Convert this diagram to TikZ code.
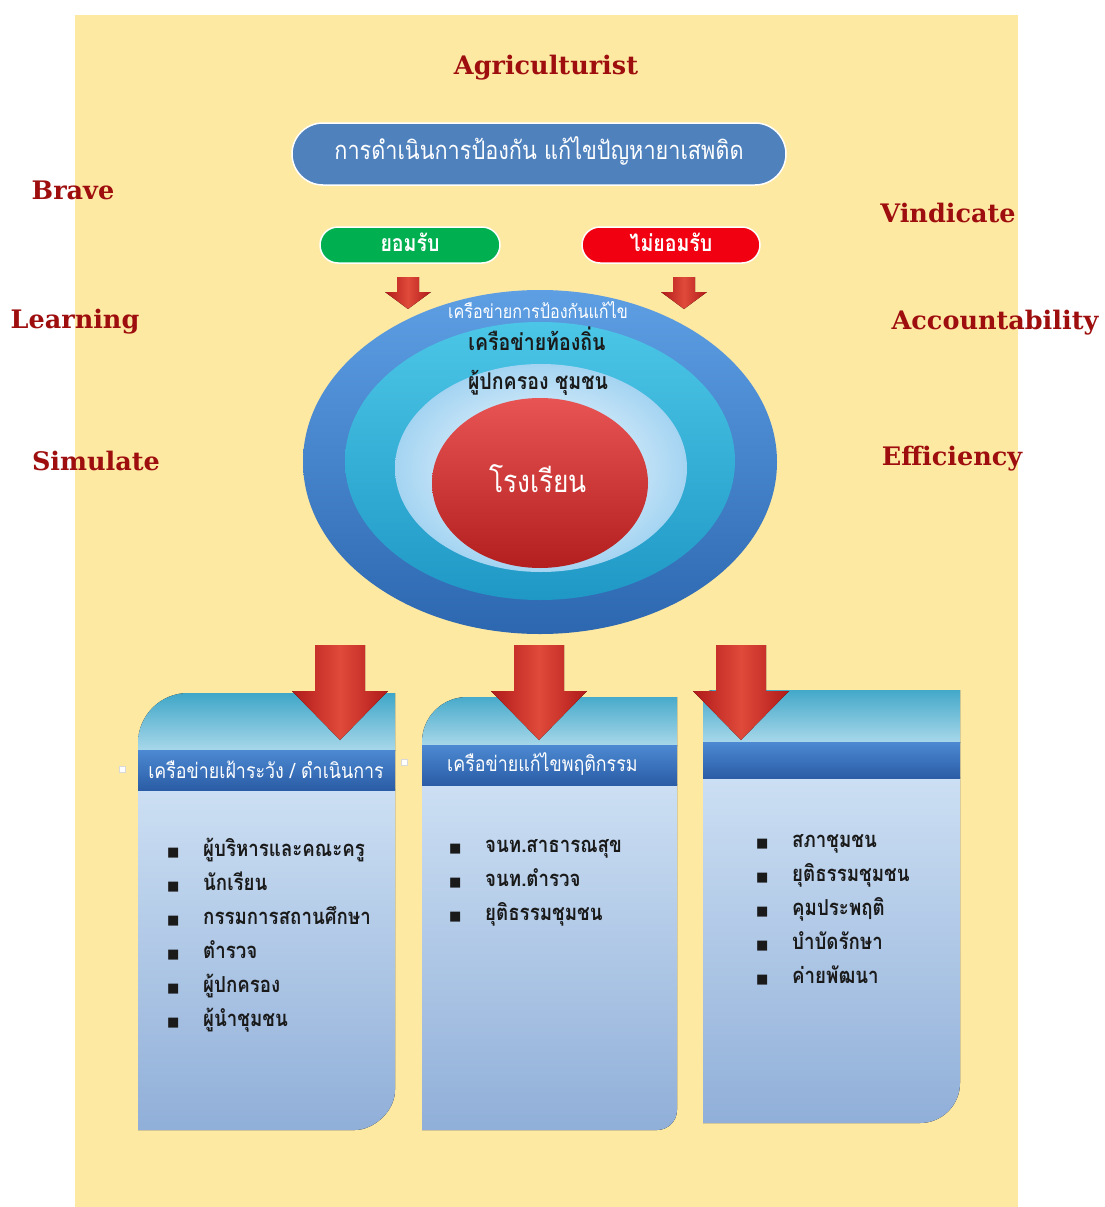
\documentclass[tikz,border=0pt]{standalone}
\usepackage{fontspec}
\newfontfamily\thai[Script=Thai,FakeStretch=0.85]{Loma}
\newfontfamily\engser{DejaVu Serif}
\newfontfamily\symfont{DejaVu Sans}
\usetikzlibrary{shapes.geometric}
\definecolor{bgyellow}{HTML}{FEE9A3}
\definecolor{wordred}{HTML}{9E0E0E}
\definecolor{topblue}{HTML}{4F81BD}
\definecolor{pillgreen}{HTML}{00B050}
\definecolor{pillred}{HTML}{F00010}
\definecolor{arrdark}{HTML}{B01A1A}
\definecolor{arrmid}{HTML}{E04A3A}
\definecolor{outtop}{HTML}{5E9FE4}
\definecolor{outbot}{HTML}{2C67B0}
\definecolor{tealtop}{HTML}{4CC6E6}
\definecolor{tealbot}{HTML}{1F98C6}
\definecolor{lightout}{HTML}{A4D4F2}
\definecolor{schooltop}{HTML}{E85454}
\definecolor{schoolbot}{HTML}{B31E1E}
\definecolor{boxtop}{HTML}{3AA4C6}
\definecolor{boxmid}{HTML}{A9D8EA}
\definecolor{headtop}{HTML}{4C89D2}
\definecolor{headbot}{HTML}{2A5DA6}
\definecolor{bodytop}{HTML}{CCDFF3}
\definecolor{bodybot}{HTML}{8FAED8}
\definecolor{listtxt}{HTML}{1A1A1A}
\newcommand{\bl}{\makebox[36pt][l]{\symfont\fontsize{13}{13}\selectfont ■}}
\begin{document}
\begin{tikzpicture}[x=1pt,y=-1pt,
  word/.style={font=\engser\bfseries\fontsize{25.5}{25.5}\selectfont, text=wordred, inner sep=0},
  pill/.style={rounded corners=#1, draw=white, line width=1.5pt, inner sep=0},
  thaiw/.style={font=\thai\bfseries\fontsize{#1}{#1}\selectfont, text=white, inner sep=0},
  thaid/.style={font=\thai\bfseries\fontsize{#1}{#1}\selectfont, text=listtxt, inner sep=0},
  thaiplain/.style={font=\thai\fontsize{#1}{#1}\selectfont, text=white, inner sep=0},
  listnode/.style={font=\thai\bfseries\fontsize{22}{34}\selectfont, text=listtxt, align=left, anchor=north west, inner sep=0},
  arrowshade/.style={left color=arrdark, right color=arrdark, middle color=arrmid, draw=none},
  ring/.style={ellipse, draw=none, inner sep=0}
]
\useasboundingbox (0,0) rectangle (1105,1207);
\fill[bgyellow] (75,15) rectangle (1018,1207);

% side words
\node[word] (agri) at (546,68) {Agriculturist};
\node[word] (brave) at (73,190) {Brave};
\node[word] (learn) at (75,322) {Learning};
\node[word] (simul) at (96,461) {Simulate};
\node[word] (vind) at (948,213) {Vindicate};
\node[word] (acc) at (995,323) {Accountability};
\node[word] (eff) at (952,459) {Efficiency};

% top title pill
\node[pill=31pt, fill=topblue, minimum width=494pt, minimum height=62pt] (main) at (539,154) {};
\node[thaiplain=25.5] (maintxt) at (539,151) {การดำเนินการป้องกัน แก้ไขปัญหายาเสพติด};

% accept / reject
\node[pill=18pt, fill=pillgreen, minimum width=180pt, minimum height=36pt] (yes) at (410,245) {};
\node[thaiw=23] (yestxt) at (410,242) {ยอมรับ};
\node[pill=18pt, fill=pillred, minimum width=178pt, minimum height=36pt] (no) at (671,245) {};
\node[thaiw=23] (notxt) at (671,242) {ไม่ยอมรับ};

% small arrows
\coordinate (sa1) at (408,277);
\coordinate (sa2) at (684,277);
\foreach \c in {sa1,sa2}{
  \fill[arrowshade] ([xshift=-11pt]\c) -- ([xshift=11pt]\c) -- ([xshift=11pt,yshift=-15pt]\c) -- ([xshift=23pt,yshift=-15pt]\c)
     -- ([yshift=-32pt]\c) -- ([xshift=-23pt,yshift=-15pt]\c) -- ([xshift=-11pt,yshift=-15pt]\c) -- cycle;
}

% rings
\node[ring, minimum width=474pt, minimum height=344pt, top color=outtop, bottom color=outbot] (outer) at (540,462) {};
\node[ring, minimum width=390pt, minimum height=278pt, top color=tealtop, bottom color=tealbot] (teal) at (540,461) {};
\node[ring, minimum width=292pt, minimum height=208pt, inner color=white, outer color=lightout] (light) at (541,468) {};
\node[ring, minimum width=216pt, minimum height=170pt, top color=schooltop, bottom color=schoolbot] (school) at (540,483) {};

\node[thaiplain=19] (netlbl) at (538,310) {เครือข่ายการป้องกันแก้ไข};
\node[thaid=23] (locallbl) at (537,339) {เครือข่ายท้องถิ่น};
\node[thaid=23] (parentlbl) at (538,383) {ผู้ปกครอง ชุมชน};
\node[thaiplain=31] (schoollbl) at (538,479) {โรงเรียน};

% bottom boxes
% box 1
\begin{scope}
\clip (138,1130) -- (138,743) .. controls (138,715.4) and (160.4,693) .. (188,693) -- (395,693) -- (395,1090) .. controls (395,1112.1) and (372.9,1130) .. (355,1130) -- cycle;
\fill[top color=boxtop, bottom color=boxmid] (130,690) rectangle (400,751);
\fill[top color=bodytop, bottom color=bodybot] (130,789) rectangle (400,1135);
\fill[top color=headtop, bottom color=headbot] (130,750) rectangle (400,790);
\end{scope}
% box 2
\begin{scope}
\clip (422,1130) -- (422,742) .. controls (422,717.1) and (442.1,697) .. (467,697) -- (677,697) -- (677,1110) .. controls (677,1121) and (668,1130) .. (657,1130) -- cycle;
\fill[top color=boxtop, bottom color=boxmid] (415,690) rectangle (680,746);
\fill[top color=bodytop, bottom color=bodybot] (415,784) rectangle (680,1135);
\fill[top color=headtop, bottom color=headbot] (415,745) rectangle (680,785);
\end{scope}
% box 3
\begin{scope}
\clip (703,1123) -- (703,700) .. controls (703,694.5) and (707.5,690) .. (713,690) -- (960,690) -- (960,1083) .. controls (960,1105.1) and (942.1,1123) .. (920,1123) -- cycle;
\fill[top color=boxtop, bottom color=boxmid] (700,685) rectangle (965,743);
\fill[top color=bodytop, bottom color=bodybot] (700,777) rectangle (965,1130);
\fill[top color=headtop, bottom color=headbot] (700,742) rectangle (965,778);
\end{scope}

\node[thaiplain=21] (head1) at (266,770) {เครือข่ายเฝ้าระวัง / ดำเนินการ};
\node[thaiplain=21, anchor=west] (head2) at (447,764) {เครือข่ายแก้ไขพฤติกรรม};

% tiny squares
\node[draw=white!85!black, fill=white, minimum size=6pt, inner sep=0] (sq1) at (122,769) {};
\node[draw=white!85!black, fill=white, minimum size=6pt, inner sep=0] (sq2) at (404,762) {};

% big arrows
\coordinate (ba1) at (340,645);
\coordinate (ba2) at (539,645);
\coordinate (ba3) at (741,645);
\foreach \c in {ba1,ba2,ba3}{
  \fill[arrowshade] ([xshift=-25pt]\c) -- ([xshift=25pt]\c) -- ([xshift=25pt,yshift=-46pt]\c) -- ([xshift=48pt,yshift=-46pt]\c)
     -- ([yshift=-95pt]\c) -- ([xshift=-48pt,yshift=-46pt]\c) -- ([xshift=-25pt,yshift=-46pt]\c) -- cycle;
}

% lists
\node[listnode] (list1) at (167,838) {\bl ผู้บริหารและคณะครู\\ \bl นักเรียน\\ \bl กรรมการสถานศึกษา\\ \bl ตำรวจ\\ \bl ผู้ปกครอง\\ \bl ผู้นำชุมชน};
\node[listnode] (list2) at (449,839) {\bl จนท.สาธารณสุข\\ \bl จนท.ตำรวจ\\ \bl ยุติธรรมชุมชน};
\node[listnode] (list3) at (756,834) {\bl สภาชุมชน\\ \bl ยุติธรรมชุมชน\\ \bl คุมประพฤติ\\ \bl บำบัดรักษา\\ \bl ค่ายพัฒนา};
\end{tikzpicture}
\end{document}
